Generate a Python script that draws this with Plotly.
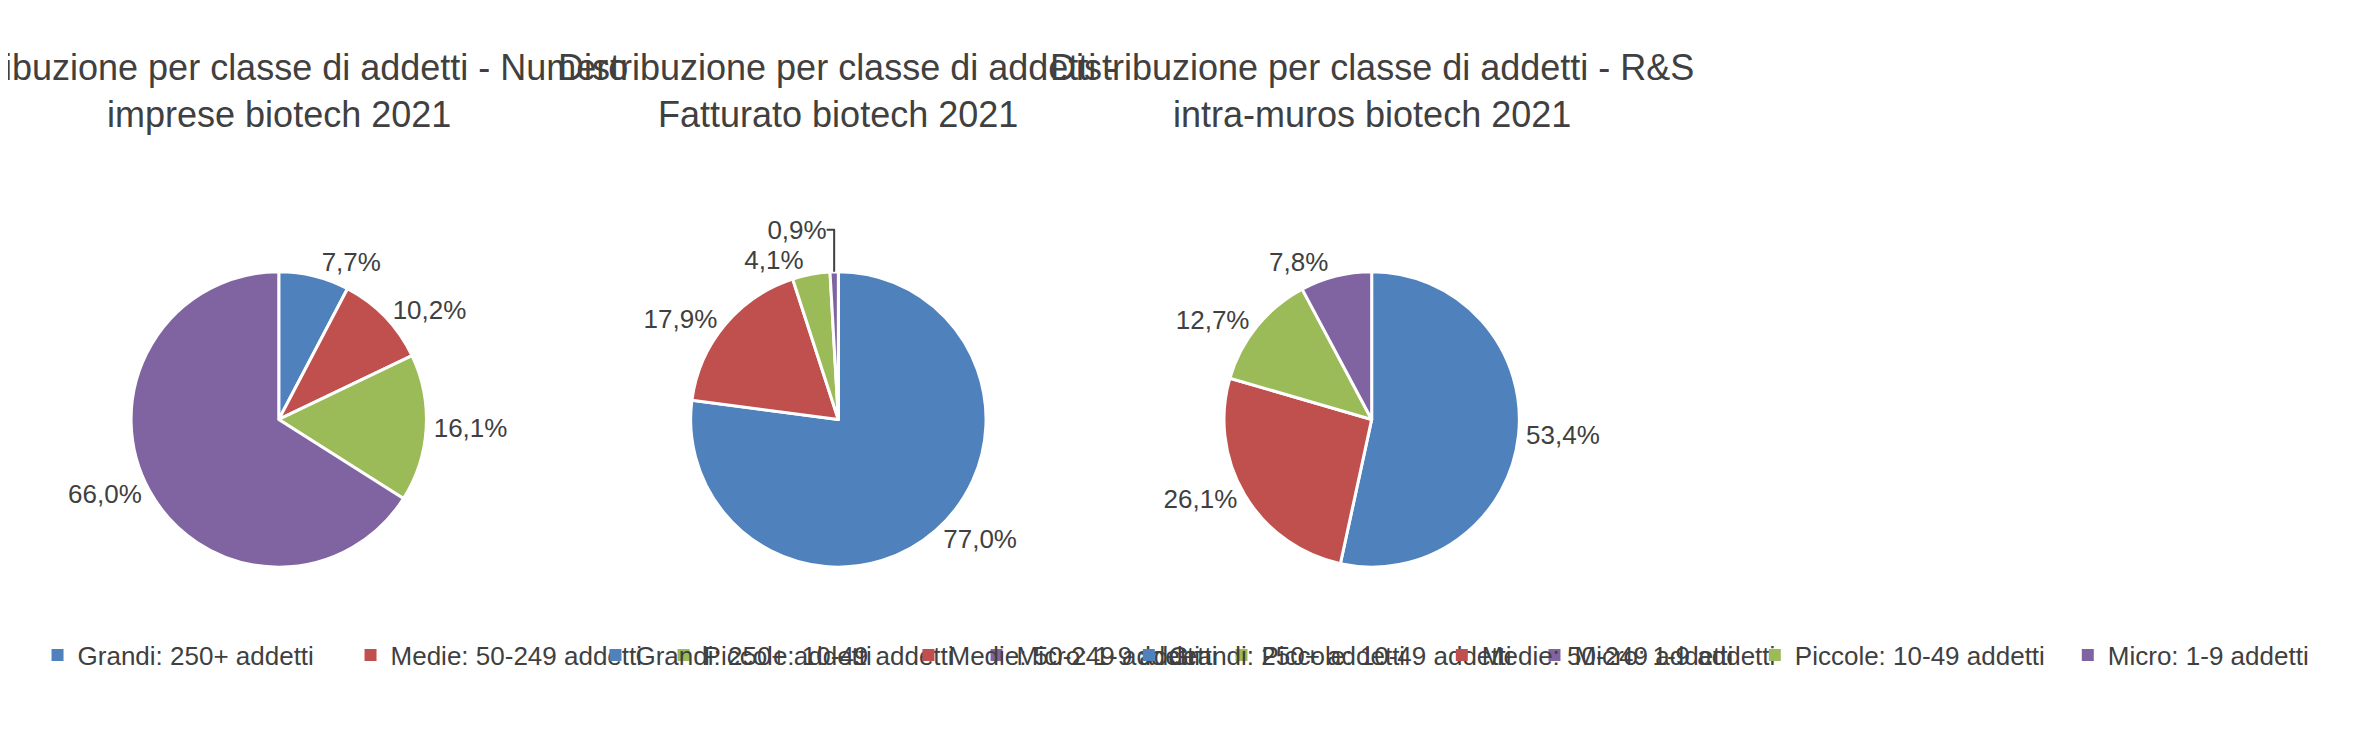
import plotly.graph_objects as go

labels = ['Grandi: 250+ addetti', 'Medie: 50-249 addetti', 'Piccole: 10-49 addetti', 'Micro: 1-9 addetti']
imprese = [7.7, 10.2, 16.1, 66.0]
fatturato = [77.0, 17.9, 4.1, 0.9]
ricerca = [53.4, 26.1, 12.7, 7.8]
titles = ['Distribuzione per classe di addetti - Numero<br>imprese biotech 2021',
          'Distribuzione per classe di addetti -<br>Fatturato biotech 2021',
          'Distribuzione per classe di addetti - R&S<br>intra-muros biotech 2021']
colors = ['#4F81BD', '#C0504D', '#9BBB59', '#8064A2']

centers = [0.165, 0.506, 0.831]
half_w = 0.09
fig = go.Figure()
for i, vals in enumerate([imprese, fatturato, ricerca]):
    leg = 'legend' if i == 0 else f'legend{i + 1}'
    fig.add_trace(go.Pie(
        labels=labels, values=vals, sort=False, direction='clockwise', rotation=0,
        text=[f'{v:.1f}'.replace('.', ',') + '%' for v in vals],
        textinfo='text', textposition='outside',
        textfont=dict(size=26, color='#404040'),
        marker=dict(colors=colors, line=dict(color='white', width=3)),
        domain=dict(x=[centers[i] - half_w, centers[i] + half_w], y=[0.17, 0.715]),
        showlegend=False, hoverinfo='label+percent'))
    # legend entries per chart
    for lab, col in zip(labels, colors):
        fig.add_trace(go.Scatter(x=[None], y=[None], mode='markers', name=lab,
                                 marker=dict(symbol='square', size=12, color=col),
                                 legend=leg, showlegend=True, hoverinfo='skip'))
    fig.add_annotation(text=titles[i], x=centers[i], y=0.95, xref='paper', yref='paper',
                       xanchor='center', yanchor='top', showarrow=False,
                       font=dict(size=36, color='#404040'))

leg_x = [0.018, 0.358, 0.683]
base = dict(orientation='h', yanchor='top', y=0.155, xanchor='left',
            font=dict(size=26, color='#404040'), entrywidth=268, entrywidthmode='pixels',
            itemwidth=30, bgcolor='rgba(0,0,0,0)', tracegroupgap=0)
fig.update_layout(
    width=2373, height=738, paper_bgcolor='white', plot_bgcolor='white',
    font=dict(family='Liberation Sans, Arial, sans-serif'),
    margin=dict(l=0, r=0, t=0, b=0),
    xaxis=dict(visible=False), yaxis=dict(visible=False),
    legend=dict(base, x=leg_x[0]),
    legend2=dict(base, x=leg_x[1]),
    legend3=dict(base, x=leg_x[2]),
)
fig.write_html('out.html')
